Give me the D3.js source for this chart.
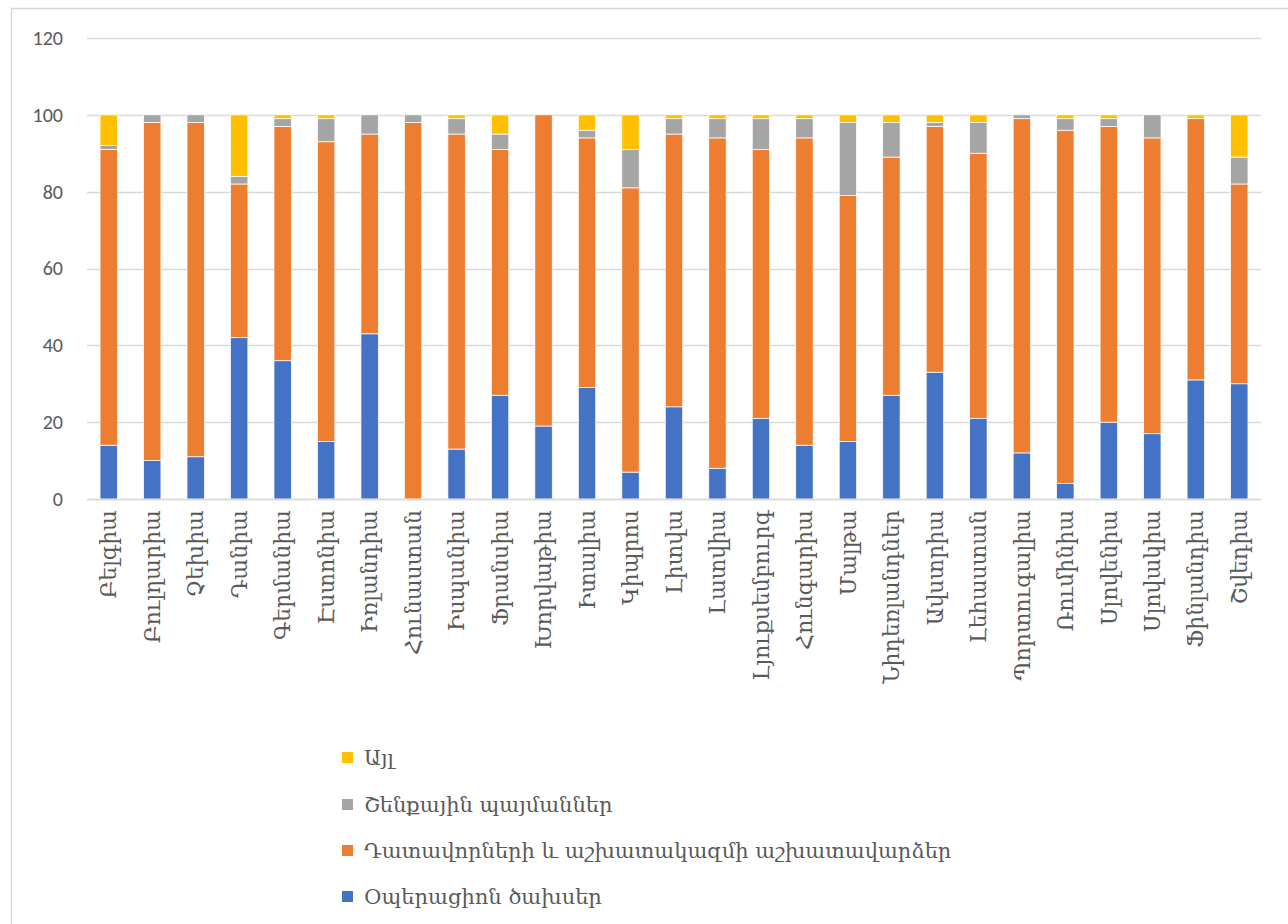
<!DOCTYPE html>
<html>
<head>
<meta charset="utf-8">
<script src="https://cdn.jsdelivr.net/npm/d3@7"></script>
<style>
html,body{margin:0;padding:0;background:#fff;}
svg{display:block;}
</style>
</head>
<body>
<svg id="chart" width="1288" height="924"></svg>
<script>
const categories = ["Բելգիա","Բուլղարիա","Չեխիա","Դանիա","Գերմանիա","Էստոնիա","Իռլանդիա","Հունաստան","Իսպանիա","Ֆրանսիա","Խորվաթիա","Իտալիա","Կիպրոս","Լիտվա","Լատվիա","Լյուքսեմբուրգ","Հունգարիա","Մալթա","Նիդեռլանդներ","Ավստրիա","Լեհաստան","Պորտուգալիա","Ռումինիա","Սլովենիա","Սլովակիա","Ֆինլանդիա","Շվեդիա"];
const operating = [14,10,11,42,36,15,43,0,13,27,19,29,7,24,8,21,14,15,27,33,21,12,4,20,17,31,30];
const salaries  = [77,88,87,40,61,78,52,98,82,64,81,65,74,71,86,70,80,64,62,64,69,87,92,77,77,68,52];
const buildings = [1,2,2,2,2,6,5,2,4,4,0,2,10,4,5,8,5,19,9,1,8,1,3,2,6,0,7];
const other     = [8,0,0,16,1,1,0,0,1,5,0,4,9,1,1,1,1,2,2,2,2,0,1,1,0,1,11];
const seriesNames = ["Օպերացիոն ծախսեր","Դատավորների և աշխատակազմի աշխատավարձեր","Շենքային պայմաններ","Այլ"];
const seriesColors = ["#4472C4","#ED7D31","#A5A5A5","#FFC000"];
const yTicks = [0,20,40,60,80,100,120];

const svg = d3.select("#chart");
const serif = "'DejaVu Serif', 'Noto Sans', serif";
const sans = "Carlito, Calibri, 'Open Sans', 'Liberation Sans', sans-serif";

// chart border
svg.append("path").attr("d","M11.5,924 L11.5,8.5 L1288,8.5").attr("fill","none").attr("stroke","#d9d9d9").attr("stroke-width",1.5);

const x = d3.scaleBand().domain(categories).range([87,1261]).paddingInner(0.6).paddingOuter(0.3);
const y = d3.scaleLinear().domain([0,120]).range([499,38]);

// gridlines
svg.append("g").selectAll("line").data(yTicks).join("line")
  .attr("x1",87).attr("x2",1261)
  .attr("y1",d=>Math.round(y(d))+0.5).attr("y2",d=>Math.round(y(d))+0.5)
  .attr("stroke","#d9d9d9").attr("stroke-width",1.3);

// y axis labels
const yAxis = d3.axisLeft(y).tickValues(yTicks).tickSize(0).tickPadding(24);
const yg = svg.append("g").attr("transform","translate(87,0)").call(yAxis);
yg.select(".domain").remove();
yg.selectAll("text").attr("font-family",sans).attr("font-size",20).attr("fill","#595959");

// stacked data
const table = categories.map((c,i)=>({cat:c, s0:operating[i], s1:salaries[i], s2:buildings[i], s3:other[i]}));
const stack = d3.stack().keys(["s0","s1","s2","s3"]);
const stacked = stack(table);

svg.append("g").selectAll("g").data(stacked).join("g")
  .attr("fill",(d,i)=>seriesColors[i])
  .selectAll("rect").data(d=>d).join("rect")
  .attr("x",d=>x(d.data.cat))
  .attr("width",x.bandwidth())
  .attr("y",d=>y(d[1]))
  .attr("height",d=>Math.max(0,y(d[0])-y(d[1])))
  .attr("stroke","#ffffff").attr("stroke-width",0.75);

// x axis labels
const xAxis = d3.axisBottom(x).tickSize(0).tickPadding(0);
const xg = svg.append("g").attr("transform","translate(0,499)").call(xAxis);
xg.select(".domain").attr("stroke","#d9d9d9").attr("stroke-width",1.3);
xg.selectAll("text")
  .attr("font-family",serif).attr("font-size",22).attr("fill","#595959")
  .attr("transform","rotate(-90)")
  .attr("text-anchor","end")
  .attr("dy","0.35em")
  .attr("x",-11).attr("y",0);

// legend (reverse order)
const legendOrder = [3,2,1,0];
const legendY = [758,805,851,897];
const lg = svg.append("g");
legendOrder.forEach((si,k)=>{
  lg.append("rect").attr("x",342).attr("y",legendY[k]-6).attr("width",11).attr("height",11).attr("fill",seriesColors[si]);
  lg.append("text").attr("x",364).attr("y",legendY[k]).attr("dy","0.35em")
    .attr("font-family",serif).attr("font-size",21).attr("fill","#595959").text(seriesNames[si]);
});
</script>
</body>
</html>
